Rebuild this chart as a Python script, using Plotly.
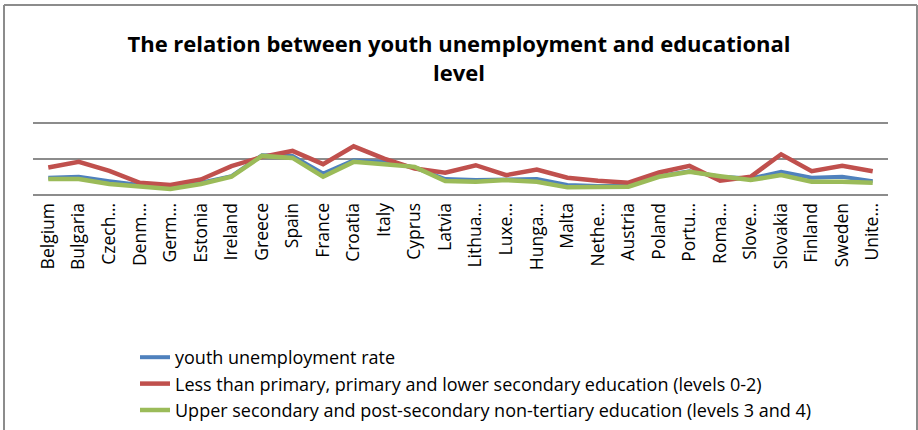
import plotly.graph_objects as go

countries = ["Belgium", "Bulgaria", "Czech…", "Denm…", "Germ…", "Estonia", "Ireland",
             "Greece", "Spain", "France", "Croatia", "Italy", "Cyprus", "Latvia",
             "Lithua…", "Luxe…", "Hunga…", "Malta", "Nethe…", "Austria", "Poland",
             "Portu…", "Roma…", "Slove…", "Slovakia", "Finland", "Sweden", "Unite…"]

youth_rate = [23.2, 24.6, 18.4, 12.8, 9.0, 16.1, 25.5, 55.3, 54.4, 29.3, 48.2, 45.9, 37.8, 21.3,
              19.9, 21.3, 21.3, 12.8, 11.3, 11.3, 25.5, 32.6, 24.6, 22.2, 31.7, 23.2, 24.6, 18.4]

lower_secondary = [37.8, 45.9, 33.1, 16.1, 12.8, 20.8, 39.7, 53.0, 61.5, 42.6, 68.1, 50.6, 36.4, 30.3,
                   41.1, 27.0, 35.0, 23.2, 18.9, 16.1, 30.7, 40.2, 18.9, 24.6, 56.7, 32.6, 40.2, 32.6]

upper_secondary = [21.3, 21.3, 14.2, 10.4, 7.1, 14.2, 24.6, 54.4, 51.5, 24.6, 45.9, 42.6, 38.8, 18.4,
                   17.5, 19.9, 17.5, 9.5, 10.4, 10.4, 24.6, 31.7, 25.5, 19.9, 27.0, 17.5, 17.5, 16.1]

series_names = [
    "youth unemployment rate",
    "Less than primary, primary and lower secondary education (levels 0-2)",
    "Upper secondary and post-secondary non-tertiary education (levels 3 and 4)",
]
colors = ["#4F81BD", "#C0504D", "#9BBB59"]
widths = [4, 4.5, 4.5]

fig = go.Figure()
for name, vals, col, w in zip(series_names, [youth_rate, lower_secondary, upper_secondary], colors, widths):
    fig.add_trace(go.Scatter(x=countries, y=vals, mode="lines", name=name,
                             line=dict(color=col, width=w)))

W, H = 918, 430
L, R, T, B = 33, 30, 124, 236

fig.update_layout(
    width=W, height=H,
    margin=dict(l=L, r=R, t=T, b=B, pad=0, autoexpand=False),
    paper_bgcolor="white", plot_bgcolor="white",
    font=dict(family="Open Sans", color="black"),
    title=dict(text="<b>The relation between youth unemployment and educational<br>level</b>",
               x=0.5, xanchor="center", xref="container",
               y=1 - 52 / H, yanchor="top", yref="container",
               font=dict(size=22, family="Open Sans", color="black")),
    xaxis=dict(type="category", range=[-0.5, len(countries) - 0.5],
               tickangle=-90, tickfont=dict(size=17.5, color="black"),
               showgrid=False, showline=True, linecolor="#8c8c8c", linewidth=2,
               mirror=True, zeroline=False, ticks="", automargin=False),
    yaxis=dict(range=[0, 100], dtick=50, showticklabels=False,
               showgrid=True, gridcolor="#8c8c8c", gridwidth=2,
               zeroline=False, showline=False, ticks="", automargin=False),
    legend=dict(xref="container", yref="container", x=135 / W, y=1 - 339 / H,
                xanchor="left", yanchor="top", orientation="v",
                font=dict(size=18, color="black"), bgcolor="rgba(0,0,0,0)",
                tracegroupgap=0),
    showlegend=True,
    hovermode=False,
)

# outer chart frame (top, left, right edges)
def px_x(px):
    return (px - L) / (W - L - R)

def px_y(py):
    return (H - B - py) / (H - T - B)

frame = dict(type="line", xref="paper", yref="paper", line=dict(color="#8c8c8c", width=2), layer="below")
fig.add_shape(x0=px_x(4), x1=px_x(917), y0=px_y(5), y1=px_y(5), **frame)
fig.add_shape(x0=px_x(4), x1=px_x(4), y0=px_y(5), y1=px_y(440), **frame)
fig.add_shape(x0=px_x(917), x1=px_x(917), y0=px_y(5), y1=px_y(440), **frame)

fig.write_html("out.html", config={"displayModeBar": False},
               post_script="document.body.style.margin='0';document.body.style.overflow='hidden';")
